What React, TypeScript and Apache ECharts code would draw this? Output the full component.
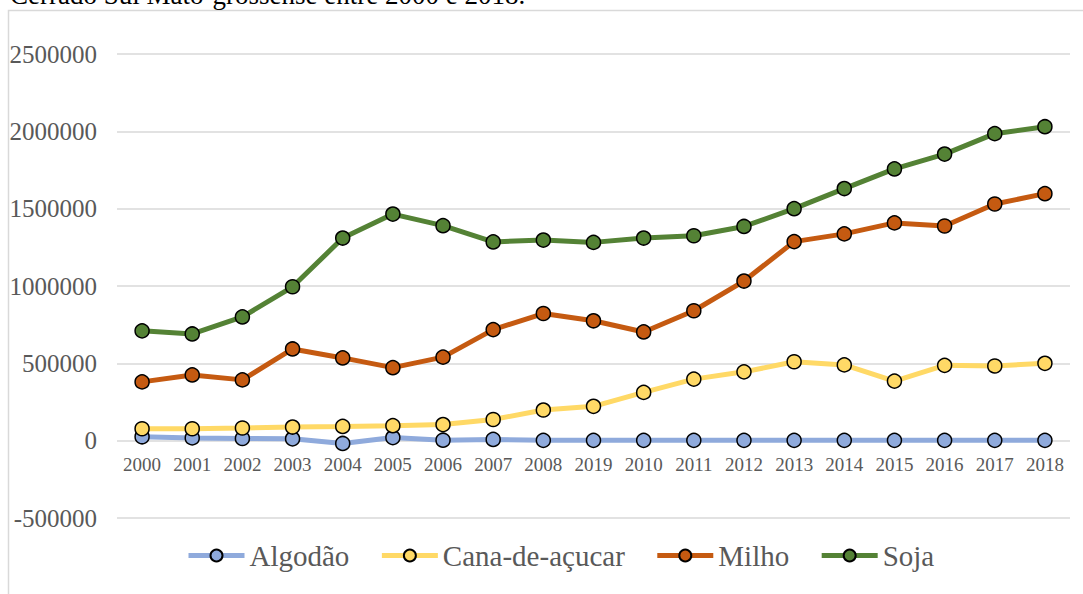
import React, { useEffect, useRef } from "react";
import * as echarts from "echarts";

const years = ["2000","2001","2002","2003","2004","2005","2006","2007","2008","2019","2010","2011","2012","2013","2014","2015","2016","2017","2018"];
const algodao = [25000,18000,14000,12000,-18000,20000,3000,8000,2000,2000,2000,2000,2000,2000,2000,2000,2000,2000,2000];
const cana = [77000,77000,82000,88000,92000,97000,104000,137000,198000,222000,312000,398000,445000,510000,490000,385000,487000,483000,500000];
const milho = [380000,425000,393000,593000,535000,472000,540000,718000,822000,775000,703000,840000,1032000,1287000,1337000,1408000,1388000,1530000,1597000];
const soja = [710000,690000,800000,995000,1310000,1465000,1390000,1285000,1297000,1282000,1310000,1325000,1385000,1500000,1630000,1757000,1853000,1985000,2030000];
const seriesNames = ["Algodão","Cana-de-açucar","Milho","Soja"];
const colors = ["#8FAADC","#FFD966","#C55A11","#548235"];
const titleText = "Cerrado Sul Mato-grossense entre 2000 e 2018.";

const FONT = "Liberation Serif";

export default function App() {
  const ref = useRef<HTMLDivElement>(null);
  useEffect(() => {
    if (!ref.current) return;
    const chart = echarts.init(ref.current, null, { renderer: "svg" });
    const data = [algodao, cana, milho, soja];
    chart.setOption({
      animation: false,
      backgroundColor: "#ffffff",
      textStyle: { fontFamily: FONT },
      graphic: [
        {
          type: "rect",
          shape: { x: 8.5, y: 10.5, width: 1100, height: 600 },
          style: { fill: "none", stroke: "#d9d9d9", lineWidth: 1.5 },
          silent: true,
          z: -10,
        },
        {
          type: "text",
          x: 10,
          y: -19,
          style: {
            text: titleText,
            font: `27px ${FONT}`,
            fill: "#000000",
            verticalAlign: "top",
          },
          silent: true,
        },
      ],
      grid: { left: 117, right: 13, top: 54, bottom: 76, containLabel: false },
      legend: {
        data: seriesNames,
        bottom: 19,
        left: 181,
        itemWidth: 56,
        itemHeight: 15,
        itemGap: 30,
        lineStyle: { width: 5 },
        textStyle: { fontFamily: FONT, fontSize: 29, color: "#595959" },
      },
      xAxis: {
        type: "category",
        data: years,
        boundaryGap: true,
        axisLine: { show: false, onZero: false },
        axisTick: { show: false },
        axisLabel: { fontFamily: FONT, fontSize: 19, color: "#595959", margin: -63 },
      },
      yAxis: {
        type: "value",
        min: -500000,
        max: 2500000,
        interval: 500000,
        axisLine: { show: false },
        axisTick: { show: false },
        splitLine: { lineStyle: { color: "#d9d9d9", width: 1.5 } },
        axisLabel: {
          fontFamily: FONT,
          fontSize: 25,
          color: "#595959",
          margin: 20,
          formatter: (v: number) => String(v),
        },
      },
      series: seriesNames.map((n, i) => ({
        name: n,
        type: "line",
        data: data[i],
        symbol: "circle",
        symbolSize: 14,
        lineStyle: { color: colors[i], width: 5 },
        itemStyle: { color: colors[i], borderColor: "#000000", borderWidth: 1.5 },
        z: 2 + i,
      })),
    });
    return () => chart.dispose();
  }, []);
  return (
    <div
      ref={ref}
      style={{ position: "absolute", left: 0, top: 0, width: 1083, height: 594 }}
    />
  );
}
